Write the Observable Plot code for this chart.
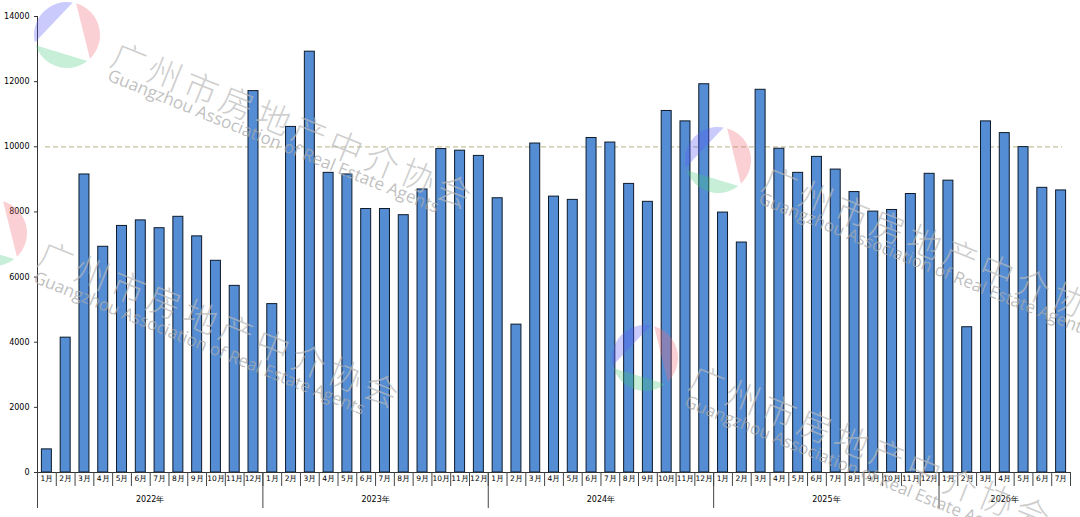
<!DOCTYPE html>
<html>
<head>
<meta charset="utf-8">
<script src="https://cdn.jsdelivr.net/npm/d3@7"></script>
<script src="https://cdn.jsdelivr.net/npm/@observablehq/plot@0.6"></script>
<style>
  html, body { margin: 0; padding: 0; background: #fff; }
  #wrap { position: relative; width: 1080px; height: 517px; overflow: hidden; }
  #chart { position: absolute; left: 0; top: 0; }
  .wm { position: absolute; transform-origin: 0 0; transform: rotate(22deg); white-space: nowrap; pointer-events: none; line-height: 1; }
  .wm-cn { font-family: "Noto Sans CJK SC", sans-serif; font-size: 34px; letter-spacing: 5px; color: rgba(185,185,185,0.7); font-weight: 300; }
  .wm-en { font-family: "Open Sans", sans-serif; font-size: 17px; color: rgba(170,170,170,0.75); }
  #logos { position: absolute; left: 0; top: 0; pointer-events: none; }
</style>
</head>
<body>
<div id="wrap">
  <div id="chart"></div>
  <svg id="logos" width="1080" height="517"></svg>
</div>
<script>
// ---- data ----
const monthLabels = ["1月","2月","3月","4月","5月","6月","7月","8月","9月","10月","11月","12月"];
const yearLabels = ["2022年","2023年","2024年","2025年","2026年"];
const values2022 = [710, 4140, 9150, 6930, 7570, 7740, 7500, 7850, 7250, 6500, 5730, 11710];
const values2023 = [5170, 10610, 12920, 9200, 9150, 8090, 8090, 7900, 8690, 9930, 9880, 9720];
const values2024 = [8420, 4540, 10100, 8470, 8370, 10270, 10130, 8860, 8310, 11100, 10780, 11920];
const values2025 = [7980, 7060, 11750, 9940, 9200, 9690, 9300, 8610, 8010, 8060, 8550, 9170];
const values2026 = [8960, 4460, 10780, 10420, 9990, 8740, 8660];
const yTicks = [0, 2000, 4000, 6000, 8000, 10000, 12000, 14000];
const refLine = 10000;

const series = [values2022, values2023, values2024, values2025, values2026];
const data = [];
const yearGroups = [];
series.forEach((vals, yi) => {
  const start = data.length;
  vals.forEach((v, mi) => data.push({i: data.length, year: yearLabels[yi], month: monthLabels[mi], value: v}));
  yearGroups.push({year: yearLabels[yi], start, mid: start + vals.length / 2});
});
const n = data.length;

const chart = Plot.plot({
  width: 1080,
  height: 517,
  marginLeft: 37,
  marginRight: 10,
  marginTop: 16,
  marginBottom: 45,
  style: {fontFamily: "DejaVu Sans, sans-serif", fontSize: "8px", color: "#000", background: "transparent", overflow: "visible"},
  x: {type: "linear", domain: [0, n], axis: null},
  y: {domain: [0, 14000], axis: null},
  marks: [
    Plot.ruleY([refLine], {stroke: "#c6c29c", strokeWidth: 1.2, strokeDasharray: "5,3", insetLeft: 8, insetRight: 8}),
    Plot.rectY(data, {x1: d => d.i, x2: d => d.i + 1, y: "value", insetLeft: 4.4, insetRight: 4.4, fill: "#548dd4", stroke: "#0d1a2a", strokeWidth: 1}),
    Plot.ruleY([0], {stroke: "#333"}),
    Plot.ruleX([0], {stroke: "#333"}),
    Plot.axisY({ticks: yTicks, tickSize: 3, tickPadding: 5, tickFormat: d => String(d), fontSize: 8, label: null, stroke: "#333"}),
    Plot.axisX({ticks: d3.range(0, n + 1), tickSize: 14, tickFormat: () => "", label: null, stroke: "#444"}),
    Plot.axisX({ticks: yearGroups.map(g => g.start), tickSize: 36, tickFormat: () => "", label: null, stroke: "#444"}),
    Plot.axisX({ticks: data.map(d => d.i + 0.5), tickSize: 0, tickPadding: 3, tickFormat: t => data[Math.floor(t)].month, fontSize: 7.5, label: null}),
    Plot.text(yearGroups, {x: "mid", text: "year", frameAnchor: "bottom", dy: 29, fontSize: 8})
  ]
});
document.getElementById("chart").appendChild(chart);

// ---- watermark (decorative) ----
const wrap = document.getElementById("wrap");
const tiles = [
  {cn: [120, 36], en: [112, 66]},
  {cn: [47, 235], en: [38, 268]},
  {cn: [771, 160], en: [763, 189]},
  {cn: [698, 359], en: [689, 392]}
];
tiles.forEach(t => {
  const a = document.createElement("div");
  a.className = "wm wm-cn";
  a.style.left = t.cn[0] + "px"; a.style.top = t.cn[1] + "px";
  a.textContent = "广州市房地产中介协会";
  wrap.appendChild(a);
  const b = document.createElement("div");
  b.className = "wm wm-en";
  b.style.left = t.en[0] + "px"; b.style.top = t.en[1] + "px";
  b.textContent = "Guangzhou Association of Real Estate Agents";
  wrap.appendChild(b);
});
const logoCenters = [[67, 35], [-6, 233], [718, 160], [645, 358]];
const segs = [
  {a0: 167, a1: 280, fill: "rgba(90,90,250,0.32)"},
  {a0: 286, a1: 406, fill: "rgba(240,110,120,0.32)"},
  {a0: 52, a1: 162, fill: "rgba(70,200,120,0.30)"}
];
const logos = d3.select("#logos");
const r = 33;
logoCenters.forEach(([cx, cy]) => {
  segs.forEach(s => {
    const p = a => [cx + r * Math.cos(a * Math.PI / 180), cy + r * Math.sin(a * Math.PI / 180)];
    const [x0, y0] = p(s.a0), [x1, y1] = p(s.a1);
    const large = (s.a1 - s.a0) > 180 ? 1 : 0;
    logos.append("path")
      .attr("d", `M${x0},${y0} A${r},${r} 0 ${large} 1 ${x1},${y1} Z`)
      .attr("fill", s.fill);
  });
});
</script>
</body>
</html>
